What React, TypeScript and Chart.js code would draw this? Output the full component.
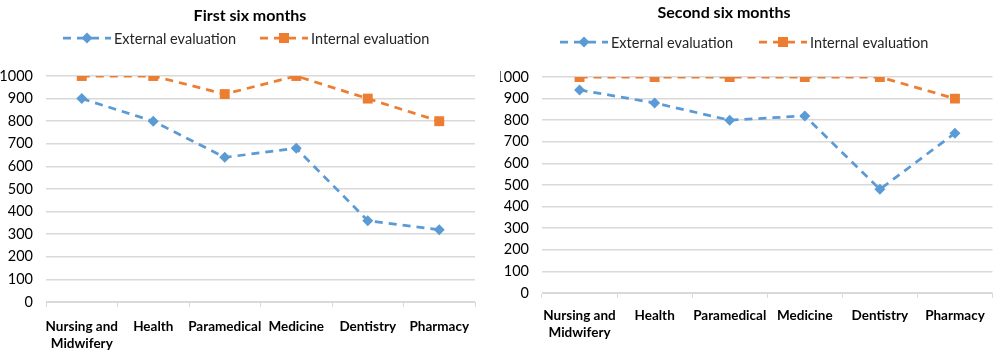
import React, { useEffect, useRef } from "react";
import { Chart, registerables } from "chart.js";

Chart.register(...registerables);

const categories: (string | string[])[] = [
  ["Nursing and", "Midwifery"],
  "Health",
  "Paramedical",
  "Medicine",
  "Dentistry",
  "Pharmacy",
];
const seriesNames = ["External evaluation", "Internal evaluation"];
const firstExternal = [900, 800, 640, 680, 360, 320];
const firstInternal = [1000, 1000, 920, 1000, 900, 800];
const secondExternal = [940, 880, 800, 820, 480, 740];
const secondInternal = [1000, 1000, 1000, 1000, 1000, 900];
const titles = ["First six months", "Second six months"];

const BLUE = "#5B9BD5";
const ORANGE = "#ED7D31";
const GRID = "#d9d9d9";
const FONT = "Lato, 'Liberation Sans', sans-serif";

type Layout = {
  titleX: number;
  titleY: number;
  legendY: number;
  legendX: [number, number];
  top: number;
  right: number;
  yWidth: number;
  xHeight: number;
  xPad: number;
  lineHeight: number;
};

function drawMarker(ctx: CanvasRenderingContext2D, kind: "d" | "s", x: number, y: number) {
  ctx.save();
  if (kind === "d") {
    ctx.fillStyle = BLUE;
    ctx.beginPath();
    ctx.moveTo(x, y - 5.5);
    ctx.lineTo(x + 5.5, y);
    ctx.lineTo(x, y + 5.5);
    ctx.lineTo(x - 5.5, y);
    ctx.closePath();
    ctx.fill();
  } else {
    ctx.fillStyle = ORANGE;
    ctx.fillRect(x - 5, y - 5, 10, 10);
  }
  ctx.restore();
}

function makeLegendPlugin(L: Layout, title: string) {
  return {
    id: "customLegend",
    afterDraw(chart: any) {
      const ctx: CanvasRenderingContext2D = chart.ctx;
      ctx.save();
      ctx.fillStyle = "#000";
      ctx.font = `bold 16px ${FONT}`;
      ctx.textAlign = "center";
      ctx.textBaseline = "middle";
      ctx.fillText(title, L.titleX, L.titleY);
      ctx.font = `14.5px ${FONT}`;
      ctx.textAlign = "left";
      const cols = [BLUE, ORANGE];
      const kinds: ("d" | "s")[] = ["d", "s"];
      for (let i = 0; i < 2; i++) {
        const x0 = L.legendX[i];
        ctx.save();
        ctx.strokeStyle = cols[i];
        ctx.lineWidth = 2.75;
        ctx.setLineDash([8, 6]);
        ctx.beginPath();
        ctx.moveTo(x0, L.legendY);
        ctx.lineTo(x0 + 48, L.legendY);
        ctx.stroke();
        ctx.restore();
        drawMarker(ctx, kinds[i], x0 + 24, L.legendY);
        ctx.fillStyle = "#262626";
        ctx.fillText(seriesNames[i], x0 + 51, L.legendY + 1);
      }
      ctx.restore();
    },
  };
}

function LineChart(props: { ext: number[]; int: number[]; title: string; L: Layout }) {
  const ref = useRef<HTMLCanvasElement | null>(null);
  useEffect(() => {
    const { L } = props;
    const chart = new Chart(ref.current as HTMLCanvasElement, {
      type: "line",
      data: {
        labels: categories as any,
        datasets: [
          {
            label: seriesNames[0],
            data: props.ext,
            borderColor: BLUE,
            backgroundColor: BLUE,
            borderWidth: 2.75,
            borderDash: [8, 6],
            pointStyle: "rectRot",
            pointRadius: 5.5,
            pointBorderWidth: 0,
            tension: 0,
          },
          {
            label: seriesNames[1],
            data: props.int,
            borderColor: ORANGE,
            backgroundColor: ORANGE,
            borderWidth: 2.75,
            borderDash: [8, 6],
            pointStyle: "rect",
            pointRadius: 7,
            pointBorderWidth: 0,
            tension: 0,
          },
        ],
      },
      options: {
        responsive: false,
        animation: false,
        layout: { padding: { top: L.top, right: L.right, left: 0, bottom: 0 } },
        plugins: { legend: { display: false }, title: { display: false }, tooltip: { enabled: false } },
        scales: {
          x: {
            offset: true,
            afterFit: (s: any) => {
              s.height = L.xHeight;
            },
            grid: {
              offset: true,
              drawOnChartArea: false,
              drawTicks: true,
              tickLength: 5,
              color: GRID,
            },
            border: { display: true, color: GRID, width: 1 },
            ticks: {
              maxRotation: 0,
              autoSkip: false,
              padding: L.xPad,
              color: "#000",
              font: { family: FONT, size: 13.5, weight: "bold", lineHeight: L.lineHeight },
            },
          },
          y: {
            min: 0,
            max: 1000,
            afterFit: (s: any) => {
              s.width = L.yWidth;
            },
            grid: { color: GRID, drawTicks: false, lineWidth: 1.5 },
            border: { display: false },
            ticks: {
              stepSize: 100,
              padding: 13,
              color: "#000",
              font: { family: FONT, size: 14.5 },
              callback: (v: any) => String(v),
            },
          },
        },
      },
      plugins: [makeLegendPlugin(L, props.title)],
    } as any);
    return () => chart.destroy();
  }, []);
  return <canvas ref={ref} width={500} height={356} style={{ display: "block" }} />;
}

const leftLayout: Layout = {
  titleX: 250,
  titleY: 16,
  legendY: 38,
  legendX: [63, 260],
  top: 76,
  right: 25,
  yWidth: 46,
  xHeight: 54,
  xPad: 11,
  lineHeight: 1.25,
};
const rightLayout: Layout = {
  titleX: 224,
  titleY: 13,
  legendY: 42,
  legendX: [60, 259],
  top: 77,
  right: 7.5,
  yWidth: 42,
  xHeight: 63,
  xPad: 10,
  lineHeight: 1.2,
};

export default function App() {
  return (
    <div style={{ position: "absolute", left: 0, top: 0, width: 1000, height: 356, display: "flex", background: "#fff" }}>
      <LineChart ext={firstExternal} int={firstInternal} title={titles[0]} L={leftLayout} />
      <LineChart ext={secondExternal} int={secondInternal} title={titles[1]} L={rightLayout} />
    </div>
  );
}
